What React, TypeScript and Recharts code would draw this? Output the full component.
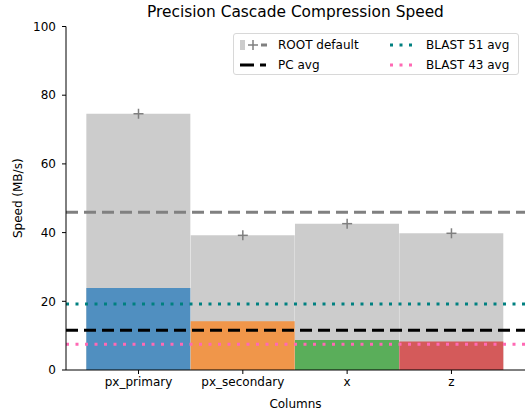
import {
  ComposedChart,
  Bar,
  Line,
  Cell,
  XAxis,
  YAxis,
  ReferenceLine,
} from "recharts";

const columns = ["px_primary", "px_secondary", "x", "z"];
const positions = [0, 1, 2, 3];
const rootDefault = [74.6, 39.2, 42.6, 39.8];
const pcSpeed = [23.9, 14.2, 8.7, 8.3];
const pcColors = ["#508fc0", "#f0964a", "#5aae5a", "#d45a5a"];
const yTicks = [0, 20, 40, 60, 80, 100];

const rootAvg = 45.9;
const pcAvg = 11.6;
const blast51Avg = 19.2;
const blast43Avg = 7.5;

const data = positions.map((p, i) => ({
  pos: p,
  root: rootDefault[i],
  pc: pcSpeed[i],
}));

const font = "'DejaVu Sans', sans-serif";

const PlusDot = (props: any) => {
  const { cx, cy } = props;
  if (cx == null || cy == null) return null;
  return (
    <g stroke="#7f7f7f" strokeWidth={1.5}>
      <line x1={cx - 5} x2={cx + 5} y1={cy} y2={cy} />
      <line x1={cx} x2={cx} y1={cy - 5} y2={cy + 5} />
    </g>
  );
};

const LegendBox = () => {
  const item = (handle: any, label: string) => (
    <div style={{ display: "flex", alignItems: "center", height: 20 }}>
      <svg width={30} height={12} style={{ marginRight: 8 }}>
        {handle}
      </svg>
      <span>{label}</span>
    </div>
  );
  return (
    <div
      style={{
        position: "absolute",
        left: 233,
        top: 33,
        width: 286,
        height: 42,
        border: "1px solid #d8d8d8",
        borderRadius: 3,
        background: "rgba(255,255,255,0.8)",
        fontFamily: font,
        fontSize: 12,
        color: "#000",
        display: "flex",
        padding: "1px 0 0 6px",
        boxSizing: "border-box",
      }}
    >
      <div style={{ width: 148 }}>
        {item(
          <g>
            <rect x={0} y={1} width={5} height={10} fill="#cccccc" />
            <line x1={8} x2={18} y1={6} y2={6} stroke="#7f7f7f" strokeWidth={1.5} />
            <line x1={13} x2={13} y1={1} y2={11} stroke="#7f7f7f" strokeWidth={1.5} />
            <line x1={21} x2={27} y1={6} y2={6} stroke="#808080" strokeWidth={3} />
          </g>,
          "ROOT default"
        )}
        {item(
          <g>
            <line x1={0} x2={14} y1={6} y2={6} stroke="#000" strokeWidth={3} />
            <line x1={20} x2={26} y1={6} y2={6} stroke="#000" strokeWidth={3} />
          </g>,
          "PC avg"
        )}
      </div>
      <div>
        {item(
          <line x1={2} x2={28} y1={6} y2={6} stroke="#008080" strokeWidth={3} strokeDasharray="3 6.5" />,
          "BLAST 51 avg"
        )}
        {item(
          <line x1={2} x2={28} y1={6} y2={6} stroke="#ff69b4" strokeWidth={3} strokeDasharray="3 6.5" />,
          "BLAST 43 avg"
        )}
      </div>
    </div>
  );
};

export default function App() {
  return (
    <div style={{ position: "absolute", left: 0, top: 0, width: 526, height: 414, background: "#fff" }}>
      <div
        style={{
          position: "absolute",
          left: 66,
          width: 459,
          top: 3,
          textAlign: "center",
          fontFamily: font,
          fontSize: 15.4,
          color: "#000",
        }}
      >
        Precision Cascade Compression Speed
      </div>
      <ComposedChart
        width={526}
        height={414}
        data={data}
        margin={{ top: 26.5, right: 1, bottom: 0, left: 0 }}
        barCategoryGap={0}
        barGap={0}
        style={{ fontFamily: font }}
      >
        <XAxis
          xAxisId="a"
          dataKey="pos"
          type="number"
          domain={[-0.695, 3.705]}
          ticks={positions}
          tickFormatter={(v: number) => columns[v]}
          allowDataOverflow
          height={44}
          tickSize={4}
          tickMargin={3}
          stroke="#000"
          tick={{ fill: "#000", fontSize: 12 }}
          label={{ value: "Columns", position: "insideBottom", offset: 6, fill: "#000", fontSize: 12 }}
        />
        <XAxis xAxisId="b" dataKey="pos" type="number" domain={[-0.695, 3.705]} ticks={positions} hide />
        <YAxis
          domain={[0, 100]}
          ticks={yTicks}
          width={66}
          tickSize={4}
          tickMargin={6}
          stroke="#000"
          tick={{ fill: "#000", fontSize: 12 }}
          label={{ value: "Speed (MB/s)", angle: -90, position: "insideLeft", offset: 18, fill: "#000", fontSize: 12, style: { textAnchor: "middle" } }}
        />
        <YAxis yAxisId="r" orientation="right" width={0} domain={[0, 100]} tick={false} stroke="#000" />
        <XAxis xAxisId="t" orientation="top" type="number" domain={[0, 1]} height={0} tick={false} stroke="#000" />
        <Bar xAxisId="a" dataKey="root" fill="#cccccc" isAnimationActive={false} />
        <Bar xAxisId="b" dataKey="pc" isAnimationActive={false}>
          {data.map((_, i) => (
            <Cell key={i} fill={pcColors[i]} />
          ))}
        </Bar>
        <ReferenceLine xAxisId="a" y={rootAvg} stroke="#808080" strokeWidth={3} strokeDasharray="12 6" />
        <ReferenceLine xAxisId="a" y={blast51Avg} stroke="#008080" strokeWidth={3} strokeDasharray="3 6.5" />
        <ReferenceLine xAxisId="a" y={pcAvg} stroke="#000" strokeWidth={3} strokeDasharray="12 6" />
        <ReferenceLine xAxisId="a" y={blast43Avg} stroke="#ff69b4" strokeWidth={3} strokeDasharray="3 6.5" />
        <Line
          xAxisId="a"
          dataKey="root"
          stroke="none"
          dot={<PlusDot />}
          activeDot={false}
          isAnimationActive={false}
        />
      </ComposedChart>
      <LegendBox />
    </div>
  );
}
